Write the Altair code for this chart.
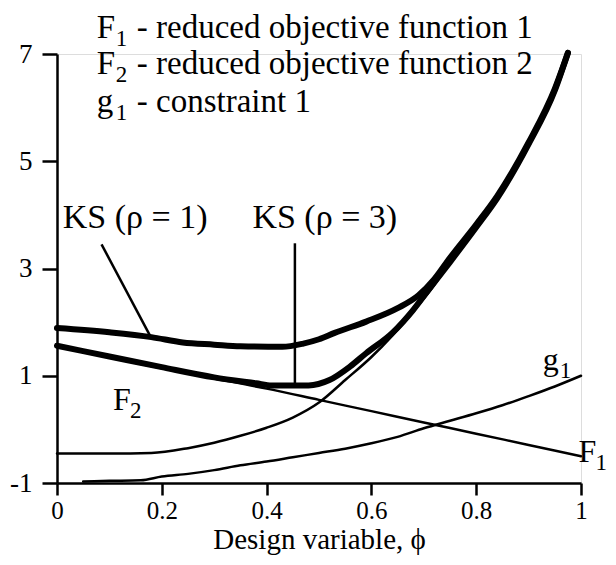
import altair as alt
import pandas as pd

# ---- data ----
F1_x = [0, 0.1, 0.2, 0.3, 0.4, 0.5, 0.6, 0.7, 0.8, 0.9, 1.0]
F1_y = [1.54, 1.34, 1.14, 0.95, 0.76, 0.55, 0.34, 0.13, -0.08, -0.29, -0.50]

F2_x = [0, 0.1, 0.18, 0.25, 0.3, 0.35, 0.4, 0.45, 0.5, 0.55, 0.6, 0.64, 0.68, 0.705, 0.75, 0.8, 0.84, 0.9, 0.95, 0.975]
F2_y = [-0.45, -0.45, -0.44, -0.35, -0.25, -0.12, 0.03, 0.22, 0.5, 0.92, 1.35, 1.75, 2.2, 2.5, 3.1, 3.75, 4.3, 5.3, 6.3, 7.0]

g1_x = [0.05, 0.1, 0.16, 0.2, 0.25, 0.3, 0.35, 0.4, 0.45, 0.5, 0.55, 0.6, 0.65, 0.7, 0.75, 0.8, 0.85, 0.9, 0.95, 1.0]
g1_y = [-0.97, -0.96, -0.95, -0.88, -0.83, -0.76, -0.67, -0.6, -0.52, -0.44, -0.36, -0.26, -0.14, 0.02, 0.16, 0.3, 0.45, 0.62, 0.8, 1.0]

KS1_x = [0, 0.1, 0.18, 0.24, 0.3, 0.35, 0.43, 0.47, 0.5, 0.53, 0.59, 0.65, 0.69, 0.72, 0.75, 0.8, 0.84, 0.9, 0.95, 0.975]
KS1_y = [1.89, 1.81, 1.72, 1.62, 1.58, 1.55, 1.54, 1.6, 1.68, 1.8, 2.01, 2.26, 2.5, 2.8, 3.2, 3.82, 4.35, 5.35, 6.35, 7.02]

KS3_x = [0, 0.1, 0.2, 0.3, 0.38, 0.41, 0.48, 0.52, 0.559, 0.59, 0.64, 0.68, 0.705, 0.75, 0.8, 0.84, 0.9, 0.95, 0.975]
KS3_y = [1.56, 1.36, 1.16, 0.97, 0.86, 0.82, 0.82, 0.92, 1.17, 1.42, 1.8, 2.23, 2.55, 3.12, 3.77, 4.31, 5.32, 6.32, 7.02]

# pointer lines (data coordinates)
ptr_x = [0.085, 0.454]
ptr_y = [3.45, 3.47]
ptr_x2 = [0.178, 0.454]
ptr_y2 = [1.74, 0.84]

# annotation anchors
leg_x = [0.076, 0.076, 0.076]
leg_y = [7.49, 6.817, 6.108]
leg_main = ["F", "F", "g"]
leg_sub = ["1", "2", "1"]
leg_rest = ["- reduced objective function 1", "- reduced objective function 2", "- constraint 1"]

ks_x = [0.149, 0.511]
ks_y = [3.94, 3.94]
ks_text = ["KS (\u03c1 = 1)", "KS (\u03c1 = 3)"]

cl_x = [0.107, 0.927, 0.995]
cl_y = [0.55, 1.29, -0.42]
cl_main = ["F", "g", "F"]
cl_sub = ["2", "1", "1"]

x_ticks = [0, 0.2, 0.4, 0.6, 0.8, 1]
y_ticks = [-1, 1, 3, 5, 7]

FONT = "Liberation Serif"

xscale = alt.Scale(domain=[0, 1], nice=False, zero=False)
yscale = alt.Scale(domain=[-1, 7], nice=False, zero=False)

X = alt.X(
    "x:Q", scale=xscale,
    axis=alt.Axis(values=x_ticks, labelExpr="'' + datum.value", title="Design variable, \u03d5",
                  grid=False, tickSize=12, tickWidth=2.5, domainWidth=2.5, domainColor="black",
                  tickColor="black", labelFont=FONT, labelFontSize=25, labelColor="black",
                  labelPadding=3, titleFont=FONT, titleFontSize=29, titleFontWeight="normal",
                  titleColor="black", titlePadding=2, labelFlush=False),
)
Y = alt.Y(
    "y:Q", scale=yscale,
    axis=alt.Axis(values=y_ticks, labelExpr="'' + datum.value", title=None,
                  grid=False, tickSize=15, tickWidth=2.5, domainWidth=2.5, domainColor="black",
                  tickColor="black", labelFont=FONT, labelFontSize=27, labelColor="black",
                  labelPadding=10, labelFlush=False),
)


def frame(xs, ys):
    return pd.DataFrame({"x": xs, "y": ys})


def line(xs, ys, w):
    return alt.Chart(frame(xs, ys)).mark_line(
        color="black", strokeWidth=w, interpolate="monotone", strokeCap="round", strokeJoin="round"
    ).encode(x=X, y=Y, order="x:Q")


thin = 2.5
thick = 6

layers = [
    line(F1_x, F1_y, thin),
    line(F2_x, F2_y, thin),
    line(g1_x, g1_y, thin),
    line(KS1_x, KS1_y, thick),
    line(KS3_x, KS3_y, thick),
]

ptr = pd.DataFrame({"x": ptr_x, "y": ptr_y, "x2": ptr_x2, "y2": ptr_y2})
layers.append(
    alt.Chart(ptr).mark_rule(color="black", strokeWidth=2.5).encode(
        x=alt.X("x:Q", scale=xscale), y=alt.Y("y:Q", scale=yscale), x2="x2:Q", y2="y2:Q"
    )
)

leg = pd.DataFrame({"x": leg_x, "y": leg_y, "main": leg_main, "sub": leg_sub, "rest": leg_rest})
base_txt = dict(font=FONT, color="black", align="left", baseline="middle")
layers += [
    alt.Chart(leg).mark_text(fontSize=33, **base_txt).encode(
        x=alt.X("x:Q", scale=xscale), y=alt.Y("y:Q", scale=yscale), text="main:N"),
    alt.Chart(leg).mark_text(fontSize=23, dx=19, dy=11, **base_txt).encode(
        x=alt.X("x:Q", scale=xscale), y=alt.Y("y:Q", scale=yscale), text="sub:N"),
    alt.Chart(leg).mark_text(fontSize=33, dx=40, **base_txt).encode(
        x=alt.X("x:Q", scale=xscale), y=alt.Y("y:Q", scale=yscale), text="rest:N"),
]

ks = pd.DataFrame({"x": ks_x, "y": ks_y, "t": ks_text})
layers.append(
    alt.Chart(ks).mark_text(font=FONT, fontSize=34, color="black", align="center", baseline="middle").encode(
        x=alt.X("x:Q", scale=xscale), y=alt.Y("y:Q", scale=yscale), text="t:N")
)

cl = pd.DataFrame({"x": cl_x, "y": cl_y, "main": cl_main, "sub": cl_sub})
layers += [
    alt.Chart(cl).mark_text(fontSize=32, **base_txt).encode(
        x=alt.X("x:Q", scale=xscale), y=alt.Y("y:Q", scale=yscale), text="main:N"),
    alt.Chart(cl).mark_text(fontSize=23, dx=17, dy=11, **base_txt).encode(
        x=alt.X("x:Q", scale=xscale), y=alt.Y("y:Q", scale=yscale), text="sub:N"),
]

chart = alt.layer(*layers).properties(
    width=524, height=429,
    autosize=alt.AutoSizeParams(type="none"),
    padding={"left": 49, "top": 46, "right": 27, "bottom": 74},
).configure_view(stroke=None).configure(background="white")

chart.save("out.html", embed_options={"renderer": "svg", "actions": False})
